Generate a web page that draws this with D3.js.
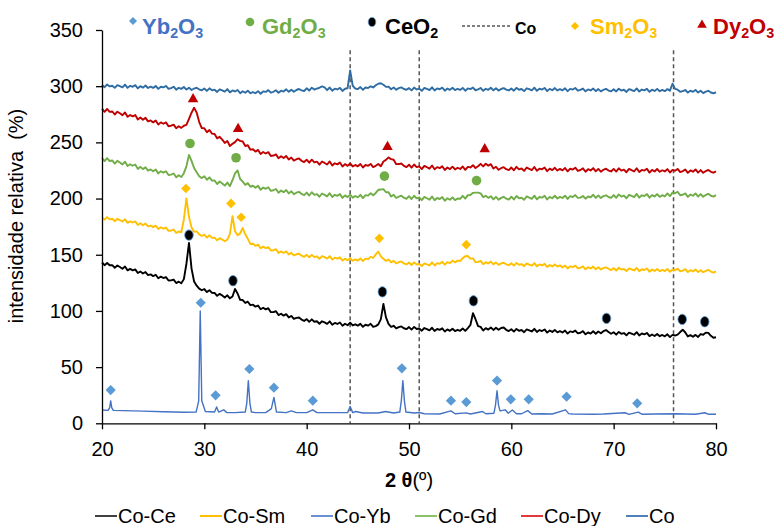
<!DOCTYPE html>
<html>
<head>
<meta charset="utf-8">
<script src="https://cdn.jsdelivr.net/npm/d3@7"></script>
<style>
  body { margin: 0; background: #fff; }
  svg { display: block; font-family: "Liberation Sans", Arial, sans-serif; }
</style>
</head>
<body>
<svg id="chart" width="776" height="526"></svg>
<script>
// ---- Diffractometer scan: 2θ from 20° to 80° in 0.25° steps ----
const scanStart = 20;
const scanStep = 0.25;

// Relative intensity (%) for each scan step, one row per 5°
const coCounts = [
  301.1,299.1,301.5,299.8,300.4,298.5,300.9,300.1,299.0,301.4,298.5,300.3,299.5,300.9,298.1,300.0,298.7,300.6,298.4,299.6,
  298.5,300.2,297.6,299.5,298.9,300.2,297.7,298.3,299.5,296.9,298.6,297.6,299.3,297.0,298.7,296.6,297.9,298.6,297.1,296.3,
  297.9,295.8,298.1,296.3,296.9,294.9,297.2,296.3,295.2,297.4,294.5,296.2,295.3,296.6,293.8,295.5,294.2,296.0,293.7,294.8,
  293.7,295.6,293.3,295.4,294.9,296.5,294.2,295.0,296.4,294.1,296.0,295.2,297.2,295.0,296.9,295.1,296.6,297.5,296.3,295.7,
  298.1,296.1,298.7,297.0,297.9,298.6,299.8,298.9,296.5,298.8,296.0,297.8,297.1,298.5,295.8,297.7,298.2,314.0,300.4,297.9,
  297.4,299.2,296.8,298.8,298.3,299.9,298.9,300.8,302.2,302.6,301.3,299.4,299.6,297.3,298.9,296.8,298.3,298.9,297.5,296.8,
  298.3,296.3,298.8,297.1,297.8,295.9,298.4,297.6,296.6,299.0,296.2,298.0,297.3,298.7,296.0,297.9,296.7,298.6,296.5,297.7,
  296.7,298.5,296.0,298.0,297.4,298.8,296.4,297.1,298.4,295.9,297.7,296.8,298.6,296.3,298.1,296.1,297.5,298.3,296.9,296.2,
  298.0,296.0,298.5,296.8,297.5,295.6,298.1,297.3,296.3,298.7,295.9,297.7,297.0,298.4,295.7,297.6,296.4,298.3,296.2,297.4,
  296.3,298.1,295.6,297.6,297.0,298.4,296.0,296.7,297.9,295.4,297.1,296.2,297.9,295.6,297.4,295.4,296.8,297.6,296.1,295.4,
  297.3,295.3,297.8,296.1,296.8,294.9,297.4,296.6,295.6,298.0,295.2,297.0,296.3,297.7,295.0,296.9,295.7,297.6,295.5,296.7,
  295.6,297.4,296.0,302.2,297.6,296.9,295.0,295.6,296.6,294.3,296.0,295.0,296.7,294.3,295.9,293.8,295.1,295.9,294.4,293.7,
  294.6
];

const coDyCounts = [
  280.1,277.2,279.7,277.1,277.5,274.8,277.3,275.9,274.2,276.6,272.8,274.4,273.1,274.3,270.4,272.2,270.2,271.8,268.7,269.5,
  267.8,269.4,265.9,267.8,266.6,267.8,264.4,264.8,265.8,262.5,264.4,262.9,264.8,265.5,270.9,276.4,280.8,276.5,268.1,262.7,
  262.6,259.1,261.0,257.8,257.5,253.6,255.0,252.4,249.5,251.2,246.8,248.7,250.2,252.8,251.3,250.8,246.8,247.4,243.5,243.9,
  241.8,243.3,239.7,241.4,240.1,241.3,237.9,238.3,239.3,235.9,237.7,236.1,237.9,234.7,236.5,233.8,235.0,235.7,233.6,232.5,
  234.6,231.9,234.6,232.2,232.8,230.2,233.0,231.7,230.3,233.0,229.5,231.4,230.4,232.0,228.5,230.7,229.1,231.2,228.6,229.9,
  228.7,230.7,227.6,229.9,229.1,230.8,228.0,229.1,230.8,228.8,233.0,234.4,236.6,235.1,234.5,230.6,230.7,231.2,229.1,228.0,
  230.1,227.5,230.3,228.0,228.7,226.2,229.1,227.9,226.6,229.4,226.0,228.0,227.1,228.7,225.4,227.6,226.2,228.4,225.9,227.4,
  226.3,228.5,225.6,228.2,227.7,229.7,227.2,228.7,230.9,228.6,231.0,229.3,230.6,226.8,228.3,225.6,227.0,227.9,226.1,225.3,
  227.6,225.2,228.2,226.0,226.8,224.6,227.6,226.5,225.3,228.1,224.8,226.6,226.1,227.7,224.4,226.6,225.3,227.4,224.9,226.4,
  225.1,227.2,224.2,226.5,225.8,227.5,224.6,225.4,226.9,223.9,226.1,225.0,227.1,224.2,226.4,223.9,225.6,226.6,224.9,224.1,
  226.4,224.0,227.0,224.9,225.7,223.4,226.4,225.3,224.1,227.0,223.6,225.5,224.9,226.5,223.1,225.5,224.1,226.3,223.8,225.2,
  224.1,226.2,223.2,225.5,224.7,226.4,223.5,224.4,225.8,222.9,225.0,223.9,225.9,223.1,225.3,222.9,224.5,225.5,223.8,223.0,
  224.2
];

const coGdCounts = [
  236.1,233.3,235.9,233.4,233.9,231.1,233.6,232.1,230.4,232.8,229.0,230.5,229.2,230.3,226.4,228.2,226.2,227.9,224.9,225.9,
  224.3,225.9,222.4,224.3,223.1,224.3,220.9,221.3,222.3,218.9,220.7,219.2,222.6,228.6,238.9,233.5,227.2,223.5,219.8,218.2,
  219.9,216.7,218.9,216.0,216.1,213.0,215.2,213.4,211.5,214.2,211.1,216.3,222.4,225.0,217.4,215.1,212.2,213.7,210.5,211.4,
  209.6,211.3,207.9,209.8,208.7,210.1,206.8,207.4,208.5,205.2,207.1,205.7,207.6,204.6,206.5,203.9,205.2,206.0,204.1,203.1,
  205.3,202.7,205.6,203.3,204.0,201.6,204.5,203.3,202.0,204.8,201.4,203.3,202.4,204.0,200.6,202.8,201.3,203.4,200.8,202.3,
  201.1,203.3,200.4,203.0,202.6,204.8,202.9,205.0,207.8,208.0,208.4,205.6,205.6,201.8,203.3,200.5,201.7,202.6,200.8,199.8,
  202.1,199.6,202.5,200.2,201.0,198.6,201.5,200.3,199.0,201.8,198.5,200.5,199.6,201.3,198.0,200.3,198.9,201.1,198.6,200.1,
  199.8,202.4,199.9,203.0,203.1,205.1,205.3,205.3,204.6,201.3,202.5,200.6,202.1,199.3,201.5,199.0,200.6,201.6,199.9,199.1,
  201.6,199.2,202.2,200.2,200.7,198.9,201.9,200.9,199.7,202.6,199.3,201.4,200.8,202.5,199.2,201.5,200.3,202.5,200.0,201.5,
  200.5,202.6,199.7,202.1,201.4,203.1,200.6,200.8,202.3,199.9,201.8,201.2,203.4,200.6,202.8,200.4,202.2,202.9,201.4,200.6,
  203.1,200.7,203.7,201.7,202.6,200.3,203.3,202.3,201.2,204.1,200.8,202.9,202.3,204.0,200.8,203.1,201.8,204.0,201.5,203.0,
  202.0,204.6,202.2,205.3,204.7,206.1,202.9,203.4,204.6,201.5,203.6,202.5,204.6,201.8,204.0,201.6,203.2,204.2,202.5,201.7,
  203.1
];

const coSmCounts = [
  183.4,181.2,183.5,181.5,182.0,179.8,182.0,180.9,179.6,181.6,178.4,179.8,178.7,179.7,176.5,178.0,176.3,177.8,175.2,176.0,
  174.6,175.9,172.9,174.4,173.3,174.2,171.3,171.5,172.5,169.4,170.7,170.0,181.4,200.2,183.7,174.3,170.5,170.8,168.1,166.7,
  167.9,165.3,167.3,165.0,165.2,162.8,164.8,163.5,162.0,163.5,168.6,184.3,170.9,167.4,169.0,173.8,168.2,164.1,159.6,159.8,
  157.9,159.0,155.8,157.2,155.9,156.8,153.8,154.0,154.9,151.7,153.0,151.6,153.0,150.3,151.7,149.4,150.4,150.9,149.2,148.2,
  149.9,147.7,149.9,148.0,148.5,146.4,148.8,147.8,146.6,148.8,145.8,147.4,146.5,147.7,144.8,146.5,145.1,146.9,144.7,145.8,
  144.8,146.7,144.4,146.5,146.1,148.1,147.1,150.3,152.8,148.5,146.4,144.5,145.8,143.2,144.6,142.3,143.4,144.0,142.3,141.4,
  143.1,140.9,143.2,141.3,141.8,139.9,142.3,141.5,140.5,143.1,140.5,142.5,142.0,143.7,141.2,143.4,142.5,144.8,143.2,144.8,
  144.4,147.0,148.7,148.9,146.6,146.8,143.4,143.6,144.5,141.5,143.4,142.3,143.9,141.5,143.2,141.0,142.3,142.9,141.5,140.7,
  142.4,140.3,142.7,141.1,141.7,139.8,142.2,141.3,140.3,142.6,139.7,141.4,140.6,141.9,139.1,140.9,139.6,141.4,139.4,140.6,
  138.7,140.4,137.8,139.7,139.0,140.3,137.8,138.4,139.6,137.0,138.8,137.8,139.5,137.1,138.8,136.9,138.1,138.8,137.5,136.3,
  138.1,136.0,138.4,136.8,137.4,135.5,137.9,137.0,136.0,138.3,135.4,137.1,136.4,137.8,134.9,136.8,135.5,137.4,135.3,136.5,
  135.5,137.3,134.8,136.8,136.2,137.6,135.2,135.9,137.2,134.6,136.3,135.2,136.9,134.6,136.3,134.4,135.6,136.6,134.9,134.1,
  135.1
];

const coCeCounts = [
  143.1,140.7,142.7,140.6,140.8,138.4,140.4,139.1,137.6,139.5,136.1,137.4,136.1,137.0,133.7,135.1,133.3,134.6,131.9,132.5,
  131.0,132.2,129.1,130.5,129.3,130.1,127.1,127.2,127.9,124.8,126.0,124.6,128.3,142.0,160.5,137.7,126.2,122.5,119.8,118.4,
  119.5,116.8,118.5,116.1,116.0,113.4,115.2,113.7,112.0,113.9,111.2,112.8,119.5,115.5,109.9,109.7,107.1,108.2,105.2,105.6,
  103.8,104.8,101.5,102.8,101.4,102.4,98.9,98.9,99.7,96.3,97.5,95.8,97.1,94.2,95.5,92.9,93.8,94.1,92.3,91.1,
  92.7,90.3,92.5,90.4,90.8,88.6,90.8,89.8,88.5,90.7,87.7,89.3,88.4,89.7,86.8,88.6,87.3,89.5,87.1,88.1,
  86.9,88.5,85.9,87.7,86.9,88.6,85.8,86.5,88.0,92.7,106.2,94.3,88.4,85.8,86.8,84.5,85.6,86.2,84.6,83.8,
  85.6,83.4,85.8,83.9,84.4,82.4,84.8,83.8,82.7,85.0,82.2,83.9,83.1,84.5,81.7,83.6,82.3,84.2,82.1,83.2,
  82.3,84.4,82.2,84.7,87.5,98.0,92.6,86.5,85.8,82.6,84.7,83.4,85.2,83.1,85.1,83.3,84.8,85.2,83.2,82.1,
  83.7,81.6,84.0,82.3,83.0,81.1,83.5,82.7,81.7,84.1,81.3,83.0,82.1,83.5,80.7,82.6,81.3,83.1,80.9,82.0,
  80.8,82.5,79.9,81.8,81.2,82.5,80.0,80.6,82.0,79.2,80.9,79.9,81.9,79.7,81.7,80.1,82.0,83.0,81.2,79.7,
  81.0,78.9,81.3,79.6,80.3,78.3,80.7,79.8,78.8,81.1,78.2,79.9,79.1,80.4,77.6,79.0,77.7,79.5,77.5,78.6,
  77.4,79.2,76.7,78.7,78.1,78.9,81.2,83.3,80.8,77.3,78.5,77.0,78.7,76.8,79.4,78.8,80.7,80.5,77.9,76.1,
  76.6
];

// Co-Yb is a low-noise pattern with sharp reflections: [2θ (°), intensity (%)]
const coYbPattern = [[20,11.8],[20.6,11.5],[20.75,14],[20.85,20],[20.95,14],[21.1,11.5],[22,11.3],[24,10.8],[26,10.3],[28,9.8],[29.2,10],[29.45,20],[29.6,100],[29.75,20],[30.1,10.5],[31,10],[31.2,14.5],[31.4,10],[31.9,12],[32.2,9.5],[33,9.5],[34,10],[34.15,18],[34.3,38],[34.45,18],[34.6,10],[35,9.5],[36,9.5],[36.55,13],[36.8,23],[37.05,10],[38,9.5],[38.5,11],[39,9.5],[40,9.5],[40.6,12],[41,9.5],[42,9.5],[43,9.5],[44,9.5],[44.25,15],[44.5,9.5],[44.8,10.5],[45.5,9.2],[47,9.2],[47.7,10.5],[48.5,9.2],[49.1,10],[49.25,20],[49.4,38],[49.55,20],[49.7,10],[50.5,9.2],[51,9.6],[51.5,8.5],[53,8.3],[54.1,11],[54.5,8.5],[55.6,9.3],[56,8.3],[57.2,10.5],[57.5,8.5],[58.3,9],[58.45,16],[58.6,29],[58.75,16],[58.9,11],[59.4,12],[59.7,9],[60.1,11.8],[60.5,8.5],[61,8.5],[61.6,11.3],[62,8.3],[63,8.5],[64,8.3],[65.3,12],[65.6,8.6],[66,8.3],[68,8],[69,8.3],[71.1,9.4],[71.5,8],[72.4,10],[72.8,8],[74,8.3],[76,8.5],[78,8],[78.9,9.4],[79.3,8],[80,8]];

// ---- Indexed phase reflections: [2θ (°), marker height (%)] ----
const yb2o3Peaks = [[20.85,29.6],[29.65,107.3],[31.1,24.9],[34.4,48.3],[36.8,31.7],[40.6,20.1],[49.3,48.9],[54.1,20.1],[55.6,18.9],[58.6,38],[59.95,21.3],[61.7,21.3],[65.4,23.7],[72.3,17.8]];
const gd2o3Peaks = [[28.6,249],[33.1,236.3],[47.6,220],[56.6,216]];
const ceo2Peaks = [[28.5,167.5],[32.8,126.9],[47.4,117],[56.3,109],[69.3,93.4],[76.7,92.5],[78.9,90.4]];
const sm2o3Peaks = [[28.2,209],[32.6,195.7],[33.6,183.3],[47.1,164.6],[55.6,159]];
const dy2o3Peaks = [[28.9,288.5],[33.3,262],[47.9,246],[57.4,244]];
const coReflections = [44.25, 51.0, 75.85];

// ---- Axis ticks and labels ----
const xTicks = [20, 30, 40, 50, 60, 70, 80];
const yTicks = [0, 50, 100, 150, 200, 250, 300, 350];
const seriesNames = ["Co-Ce", "Co-Sm", "Co-Yb", "Co-Gd", "Co-Dy", "Co"];
const phaseNames = ["Yb2O3", "Gd2O3", "CeO2", "Co", "Sm2O3", "Dy2O3"];

// ---- Styling ----
const seriesColors = {
  "Co-Ce": "#000000", "Co-Sm": "#FFC000", "Co-Yb": "#4472C4",
  "Co-Gd": "#70AD47", "Co-Dy": "#C00000", "Co": "#2E6CA4"
};
const legendLineColors = ["#404040", "#FFC000", "#6A8FD6", "#8CC26A", "#E03A3A", "#4F80B8"];

const toPattern = counts => counts.map((v, i) => [scanStart + i * scanStep, v]);

const svg = d3.select("#chart");
const frame = { left: 102, right: 716, top: 30, bottom: 423.3 };

const x = d3.scaleLinear().domain([20, 80]).range([frame.left, frame.right]);
const y = d3.scaleLinear().domain([0, 350]).range([frame.bottom, frame.top]);

// Dashed reference lines for metallic Co reflections
svg.append("g").selectAll("line").data(coReflections).join("line")
  .attr("x1", d => x(d)).attr("x2", d => x(d))
  .attr("y1", y(332)).attr("y2", y(0))
  .attr("stroke", "#555").attr("stroke-width", 1.5)
  .attr("stroke-dasharray", "4,3");

// Patterns
const line = d3.line().x(d => x(d[0])).y(d => y(d[1]));
const patterns = [
  { name: "Co", data: toPattern(coCounts), w: 1.9 },
  { name: "Co-Dy", data: toPattern(coDyCounts), w: 1.9 },
  { name: "Co-Gd", data: toPattern(coGdCounts), w: 1.9 },
  { name: "Co-Sm", data: toPattern(coSmCounts), w: 1.9 },
  { name: "Co-Ce", data: toPattern(coCeCounts), w: 1.9 },
  { name: "Co-Yb", data: coYbPattern, w: 1.4 }
];
svg.append("g").selectAll("path").data(patterns).join("path")
  .attr("d", d => line(d.data))
  .attr("fill", "none")
  .attr("stroke", d => seriesColors[d.name])
  .attr("stroke-width", d => d.w)
  .attr("stroke-linejoin", "round");

// Phase markers
const markers = svg.append("g");
markers.selectAll(".yb").data(yb2o3Peaks).join("path")
  .attr("d", d3.symbol().type(d3.symbolSquare).size(52)())
  .attr("transform", d => `translate(${x(d[0])},${y(d[1])}) rotate(45)`)
  .attr("fill", "#5B9BD5");
markers.selectAll(".sm").data(sm2o3Peaks).join("path")
  .attr("d", d3.symbol().type(d3.symbolSquare).size(46)())
  .attr("transform", d => `translate(${x(d[0])},${y(d[1])}) rotate(45)`)
  .attr("fill", "#FFC000");
markers.selectAll(".gd").data(gd2o3Peaks).join("circle")
  .attr("cx", d => x(d[0])).attr("cy", d => y(d[1])).attr("r", 4.8)
  .attr("fill", "#70AD47");
markers.selectAll(".dy").data(dy2o3Peaks).join("path")
  .attr("d", d3.symbol().type(d3.symbolTriangle).size(48)())
  .attr("transform", d => `translate(${x(d[0])},${y(d[1])})`)
  .attr("fill", "#C00000");
markers.selectAll(".ce").data(ceo2Peaks).join("ellipse")
  .attr("cx", d => x(d[0])).attr("cy", d => y(d[1]))
  .attr("rx", 4.3).attr("ry", 5.2)
  .attr("fill", "#000").attr("stroke", "#5B9BD5").attr("stroke-width", 0.8);

// Axes
const xAxis = d3.axisBottom(x).tickValues(xTicks).tickSize(6).tickSizeOuter(0).tickPadding(13);
const yAxis = d3.axisLeft(y).tickValues(yTicks).tickSize(6).tickSizeOuter(0).tickPadding(13);
const gx = svg.append("g").attr("transform", `translate(0,${frame.bottom})`).call(xAxis);
const gy = svg.append("g").attr("transform", `translate(${frame.left},0)`).call(yAxis);
[gx, gy].forEach(g => {
  g.select(".domain").attr("stroke", "#000").attr("stroke-width", 1.3);
  g.selectAll(".tick line").attr("stroke", "#000").attr("stroke-width", 1.3);
  g.selectAll(".tick text").attr("font-size", 20).attr("fill", "#000")
    .attr("font-family", "'Liberation Sans', Arial, sans-serif");
});

// Axis titles
svg.append("text")
  .attr("transform", "translate(23,216) rotate(-90)")
  .attr("text-anchor", "middle").attr("font-size", 20)
  .style("white-space", "pre")
  .text("intensidade relativa  (%)");
const xt = svg.append("text").attr("x", 409).attr("y", 487)
  .attr("text-anchor", "middle").attr("font-size", 20);
xt.append("tspan").attr("font-weight", "bold").text("2 θ");
xt.append("tspan").text("(º)");

// Phase key (top)
const phaseColors = ["#4472C4", "#70AD47", "#000000", "#000000", "#FFC000", "#C00000"];
const phaseTextX = [142, 262, 385, 515, 590, 713];
function chemLabel(sel, label, size) {
  // letters at normal size, digits as subscripts
  const parts = label.match(/[A-Za-z]+|\d+/g);
  let sub = false;
  parts.forEach(p => {
    const isNum = /\d/.test(p);
    const t = sel.append("tspan").text(p);
    if (isNum) { t.attr("font-size", size * 0.65).attr("dy", sub ? 0 : 4); sub = true; }
    else { t.attr("dy", sub ? -4 : 0); sub = false; }
  });
}
const key = svg.append("g");
phaseNames.forEach((nm, i) => {
  const isCo = nm === "Co";
  const t = key.append("text").attr("x", phaseTextX[i]).attr("y", 34)
    .attr("font-weight", "bold").attr("font-size", isCo ? 16 : 22)
    .attr("fill", phaseColors[i]);
  chemLabel(t, nm, isCo ? 16 : 22);
});
key.append("path").attr("d", d3.symbol().type(d3.symbolSquare).size(32)())
  .attr("transform", "translate(133,21) rotate(45)").attr("fill", "#5B9BD5");
key.append("circle").attr("cx", 250).attr("cy", 22).attr("r", 4.3).attr("fill", "#70AD47");
key.append("ellipse").attr("cx", 372).attr("cy", 22).attr("rx", 3.8).attr("ry", 4.6)
  .attr("fill", "#000").attr("stroke", "#5B9BD5").attr("stroke-width", 0.8);
key.append("line").attr("x1", 462).attr("x2", 510).attr("y1", 26).attr("y2", 26)
  .attr("stroke", "#555").attr("stroke-width", 1.3).attr("stroke-dasharray", "3,2");
key.append("path").attr("d", d3.symbol().type(d3.symbolSquare).size(34)())
  .attr("transform", "translate(575,26) rotate(45)").attr("fill", "#FFC000");
key.append("path").attr("d", d3.symbol().type(d3.symbolTriangle).size(40)())
  .attr("transform", "translate(702,25)").attr("fill", "#C00000");

// Series legend (bottom)
const legendX = [95, 200, 311, 415, 521, 626];
const leg = svg.append("g");
seriesNames.forEach((nm, i) => {
  leg.append("line").attr("x1", legendX[i]).attr("x2", legendX[i] + 22)
    .attr("y1", 516).attr("y2", 516)
    .attr("stroke", legendLineColors[i]).attr("stroke-width", 2);
  leg.append("text").attr("x", legendX[i] + 23).attr("y", 523)
    .attr("font-size", 20).attr("fill", "#000").text(nm);
});
</script>
</body>
</html>
